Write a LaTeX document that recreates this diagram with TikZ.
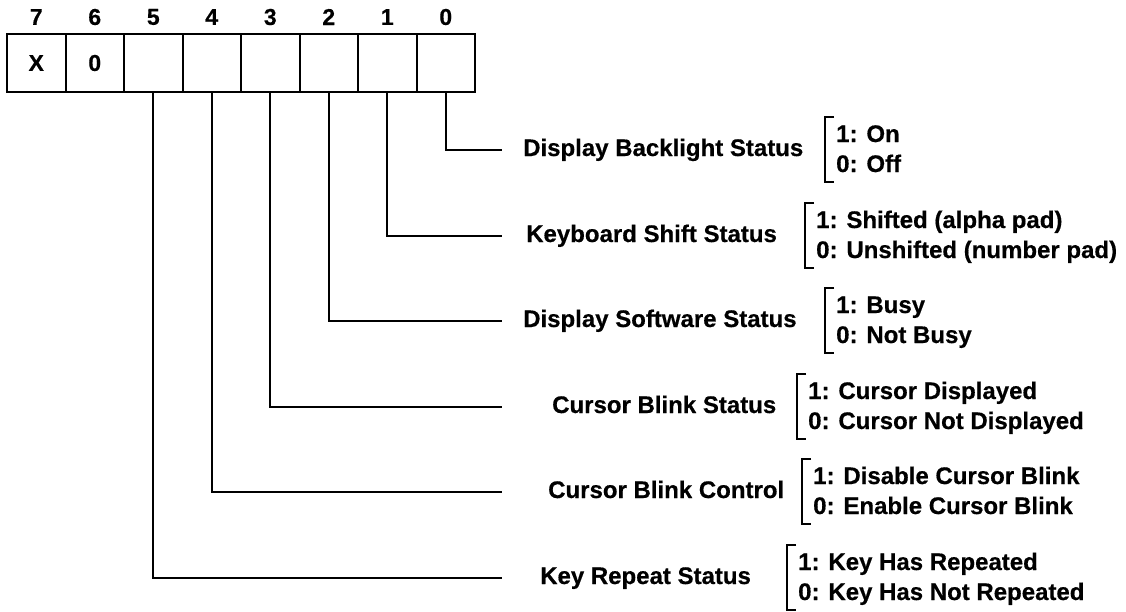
\documentclass[tikz,border=0pt]{standalone}
\usepackage{fontspec}
\setmainfont{Liberation Sans}[BoldFeatures={FakeBold=0.5}]
\usetikzlibrary{calc}
\begin{document}
\begin{tikzpicture}[x=1pt,y=-1pt,
  cell/.style={draw, line width=2pt, minimum width=58.5pt, minimum height=58pt,
    inner sep=0pt, font=\fontsize{23}{27}\selectfont\bfseries},
  bitnum/.style={inner sep=0pt, font=\fontsize{23}{27}\selectfont\bfseries},
  wire/.style={line width=2pt},
  brk/.style={line width=2pt},
  fieldname/.style={anchor=base west, inner sep=0pt, font=\fontsize{24}{30}\selectfont\bfseries},
  fieldval/.style={anchor=base west, inner sep=0pt, font=\fontsize{24}{30}\selectfont\bfseries}]
\useasboundingbox (0,0) rectangle (1126,611);

% register cells, bit 7 on the left
\foreach \b/\t [count=\i from 0] in {7/X,6/0,5/,4/,3/,2/,1/,0/}{
  \node[cell] (b\b) at ({36.25+58.5*\i},63) {\t};
  \node[bitnum] (n\b) at ({36.25+58.5*\i},17) {\b};
}

% field names, value lists and the leader lines to each bit
% row: bit / y / name x / bracket x / name / value 1 / value 0
\foreach \b/\y/\lx/\bx/\name/\one/\zero in {
  0/150/523/825/Display Backlight Status/1: On/0: Off,
  1/236/526/805/Keyboard Shift Status/1: Shifted (alpha pad)/0: Unshifted (number pad),
  2/321/523/825/Display Software Status/1: Busy/0: Not Busy,
  3/407/552/797/Cursor Blink Status/1: Cursor Displayed/0: Cursor Not Displayed,
  4/492/548/802/Cursor Blink Control/1: Disable Cursor Blink/0: Enable Cursor Blink,
  5/578/540/787/Key Repeat Status/1: Key Has Repeated/0: Key Has Not Repeated}{
  \node[fieldname] (f\b) at (\lx,\y+6) {\name};
  \coordinate (e\b) at (502,\y);
  \draw[wire] (b\b.south) |- (e\b);
  \node[fieldval] (v\b a) at (\bx+11,\y-8) {\one};
  \node[fieldval] (v\b b) at (\bx+11,\y+22) {\zero};
  \draw[brk] ([shift={(-2,-25)}]v\b a.base west) -| ([shift={(-11,40)}]v\b a.base west) -- ++(9,0);
}
\end{tikzpicture}
\end{document}
